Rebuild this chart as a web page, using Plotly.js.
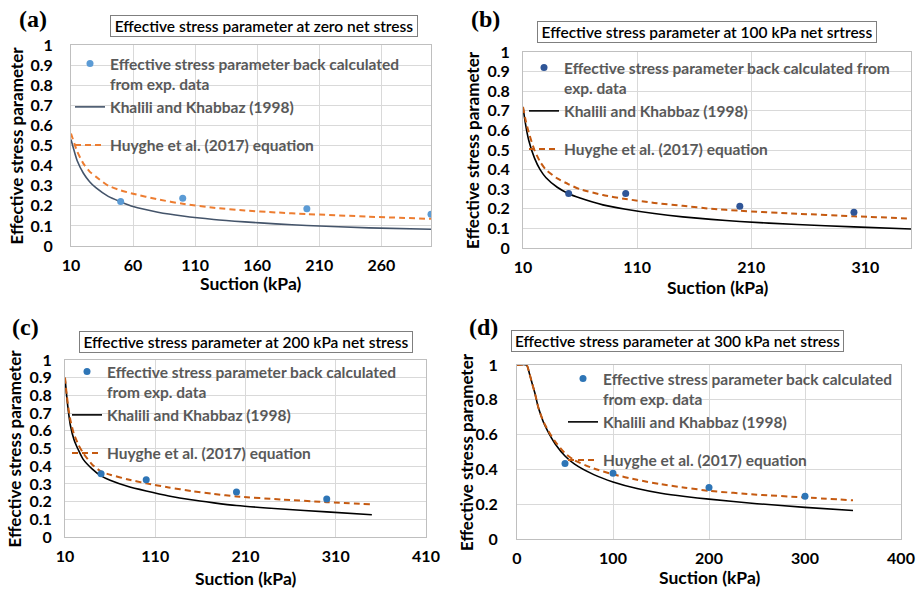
<!DOCTYPE html>
<html><head><meta charset="utf-8">
<script src="https://cdn.plot.ly/plotly-3.0.1.min.js"></script>
<style>html,body{margin:0;padding:0;background:#fff}</style>
</head><body><div id="chart" style="width:920px;height:589px"></div>
<script>
// ---- data ----
const ptsSuction = [50, 100, 200, 300];
const ptsA = [0.222, 0.237, 0.185, 0.158];
const ptsB = [0.278, 0.278, 0.213, 0.183];
const ptsC = [0.358, 0.324, 0.254, 0.214];
const ptsD = [0.434, 0.378, 0.296, 0.245];

const suctionA = [10,15,20,25,30,40,50,60,80,100,125,150,175,200,250,300];
const khaliliA = [0.53,0.424,0.362,0.32,0.29,0.247,0.22,0.196,0.168,0.149,0.132,0.12,0.11,0.102,0.09,0.083];
const huygheA  = [0.56,0.47,0.41,0.37,0.345,0.30,0.277,0.26,0.232,0.21,0.19,0.177,0.167,0.159,0.146,0.135];

const suctionB = [10,12,15,20,25,30,40,50,60,80,100,125,150,175,200,250,300,350];
const khaliliB = [0.72,0.64,0.55,0.46,0.40,0.36,0.31,0.277,0.255,0.22,0.198,0.176,0.159,0.146,0.135,0.12,0.108,0.097];
const huygheB  = [0.72,0.66,0.59,0.50,0.44,0.40,0.355,0.325,0.30,0.27,0.25,0.23,0.215,0.20,0.19,0.175,0.162,0.15];

const suctionC = [10,12,14,16,20,25,30,40,50,60,80,100,125,150,175,200,250,300,350];
const khaliliC = [0.9,0.79,0.70,0.63,0.55,0.49,0.44,0.385,0.345,0.32,0.285,0.26,0.232,0.21,0.193,0.178,0.158,0.142,0.126];
const huygheC  = [0.9,0.80,0.72,0.66,0.58,0.52,0.475,0.41,0.37,0.352,0.325,0.303,0.28,0.26,0.243,0.229,0.212,0.197,0.185];

const suctionD = [0,10,13,16,19,22,25,28,32,36,40,50,60,80,100,125,150,175,200,250,300,350];
const khaliliD = [1,1,0.95,0.89,0.83,0.76,0.71,0.665,0.62,0.58,0.545,0.477,0.43,0.37,0.328,0.29,0.263,0.244,0.229,0.203,0.182,0.164];
const huygheD  = [1,1,0.95,0.89,0.83,0.76,0.71,0.67,0.628,0.59,0.558,0.493,0.452,0.405,0.372,0.34,0.315,0.295,0.277,0.255,0.239,0.222];

const panelLabels = ['(a)', '(b)', '(c)', '(d)'];
const panelTitles = [
  'Effective stress parameter at zero net stress',
  'Effective stress parameter at 100 kPa net srtress',
  'Effective stress parameter at 200 kPa net stress',
  'Effective stress parameter at 300 kPa net stress'
];
const nameExpA = 'Effective stress parameter back calculated<br>from exp. data';
const nameExpB = 'Effective stress parameter back calculated from<br>exp. data';
const nameKhalili = 'Khalili and Khabbaz (1998)';
const nameHuyghe = 'Huyghe et al. (2017) equation';
const xTitle = 'Suction (kPa)';
const yTitle = 'Effective stress parameter';

// ---- styling ----
const W = 920, H = 589;
const px = v => v / W;
const py = v => 1 - v / H;
const FONT = 'Lato, "Open Sans", sans-serif';

const panels = [
  {x:suctionA, k:khaliliA, h:huygheA, p:ptsA, exp:nameExpA, dom:[71,431,45,246], xr:[10,300], x0:10, dx:50, dy:0.1,
   ptc:'#5b9bd5', kc:'#44546a', hc:'#ed7d31', leg:[70,47], title:[264,25.5,302], lab:[33,19], ytx:16, xty:283, ysd:14},
  {x:suctionB, k:khaliliB, h:huygheB, p:ptsB, exp:nameExpB, dom:[523,911,52,248], xr:[10,350], x0:10, dx:100, dy:0.1,
   ptc:'#2f5597', kc:'#000000', hc:'#c55a11', leg:[524,51], title:[707,32,334], lab:[486,19], ytx:473, xty:287, ysd:9},
  {x:suctionC, k:khaliliC, h:huygheC, p:ptsC, exp:nameExpA, dom:[65,426,360,537], xr:[10,410], x0:10, dx:100, dy:0.1,
   ptc:'#2e75b6', kc:'#000000', hc:'#c55a11', leg:[67,355], title:[246,341.5,328], lab:[25,327], ytx:14, xty:578, ysd:9},
  {x:suctionD, k:khaliliD, h:huygheD, p:ptsD, exp:nameExpA, dom:[517,901,365,539], xr:[0,400], x0:0, dx:100, dy:0.2,
   ptc:'#2e75b6', kc:'#000000', hc:'#c55a11', leg:[563,362], title:[677.5,341,327], lab:[484,327], ytx:466, xty:577, ysd:15}
];

const data = [];
const layout = {
  width: W, height: H,
  margin: {l:0, r:0, t:0, b:0},
  paper_bgcolor: '#ffffff', plot_bgcolor: '#ffffff',
  font: {family: FONT, color: '#000'},
  showlegend: true,
  annotations: []
};

panels.forEach((P, i) => {
  const n = i === 0 ? '' : String(i + 1);
  const xa = 'x' + n, ya = 'y' + n, lg = 'legend' + n;
  data.push({x: P.x, y: P.k, xaxis: xa, yaxis: ya, type: 'scatter', mode: 'lines', name: nameKhalili,
    line: {color: P.kc, width: 1.6, shape: 'spline', smoothing: 0.6}, legend: lg, legendgroup: 'g1', legendrank: 2});
  data.push({x: P.x, y: P.h, xaxis: xa, yaxis: ya, type: 'scatter', mode: 'lines', name: nameHuyghe,
    line: {color: P.hc, width: 2, dash: '6px,4px', shape: 'spline', smoothing: 0.6}, legend: lg, legendgroup: 'g2', legendrank: 3});
  data.push({x: ptsSuction, y: P.p, xaxis: xa, yaxis: ya, type: 'scatter', mode: 'markers', name: P.exp,
    marker: {color: P.ptc, size: 7}, legend: lg, legendgroup: 'g1', legendrank: 1});

  layout['xaxis' + n] = {
    domain: [px(P.dom[0]), px(P.dom[1])], anchor: ya, range: P.xr,
    tickmode: 'linear', tick0: P.x0, dtick: P.dx,
    showgrid: true, gridcolor: '#d9d9d9', gridwidth: 1, zeroline: false,
    showline: true, linecolor: '#bfbfbf', linewidth: 1, mirror: true, ticks: '',
    tickfont: {family: FONT, size: 16, color: '#000', weight: 'bold'}, ticklabelstandoff: 5
  };
  layout['yaxis' + n] = {
    domain: [py(P.dom[3]), py(P.dom[2])], anchor: xa, range: [0, 1],
    tickmode: 'linear', tick0: 0, dtick: P.dy,
    showgrid: true, gridcolor: '#d9d9d9', gridwidth: 1, zeroline: false,
    showline: true, linecolor: '#bfbfbf', linewidth: 1, mirror: true, ticks: '',
    tickfont: {family: FONT, size: 16, color: '#000', weight: 'bold'}, ticklabelstandoff: P.ysd
  };
  layout[lg] = {
    x: px(P.leg[0]), y: py(P.leg[1]), xanchor: 'left', yanchor: 'top',
    bgcolor: 'rgba(0,0,0,0)', borderwidth: 0, valign: 'top',
    traceorder: 'grouped', tracegroupgap: 15,
    font: {family: FONT, size: 15.5, color: '#595959', weight: 'bold'}
  };
  // titles
  layout.annotations.push({xref: 'paper', yref: 'paper', x: px(P.title[0]), y: py(P.title[1]),
    xanchor: 'center', yanchor: 'middle', showarrow: false, text: panelTitles[i], width: P.title[2], height: 16,
    bordercolor: '#7f7f7f', borderwidth: 1, borderpad: 2, bgcolor: '#ffffff',
    font: {family: FONT, size: 15.5, color: '#000', weight: 600}});
  layout.annotations.push({xref: 'paper', yref: 'paper', x: px(P.lab[0]), y: py(P.lab[1]),
    xanchor: 'center', yanchor: 'middle', showarrow: false, text: panelLabels[i],
    font: {family: '"Liberation Serif", "Times New Roman", serif', size: 24, color: '#000', weight: 'bold'}});
  // axis titles
  layout.annotations.push({xref: 'paper', yref: 'paper', x: px((P.dom[0] + P.dom[1]) / 2), y: py(P.xty),
    xanchor: 'center', yanchor: 'middle', showarrow: false, text: xTitle,
    font: {family: FONT, size: 17.5, color: '#000', weight: 'bold'}});
  layout.annotations.push({xref: 'paper', yref: 'paper', x: px(P.ytx), y: py((P.dom[2] + P.dom[3]) / 2),
    xanchor: 'center', yanchor: 'middle', showarrow: false, text: yTitle, textangle: -90,
    font: {family: FONT, size: 17, color: '#000', weight: 'bold'}});
});

Plotly.newPlot('chart', data, layout, {staticPlot: true, displayModeBar: false});
</script></body></html>
